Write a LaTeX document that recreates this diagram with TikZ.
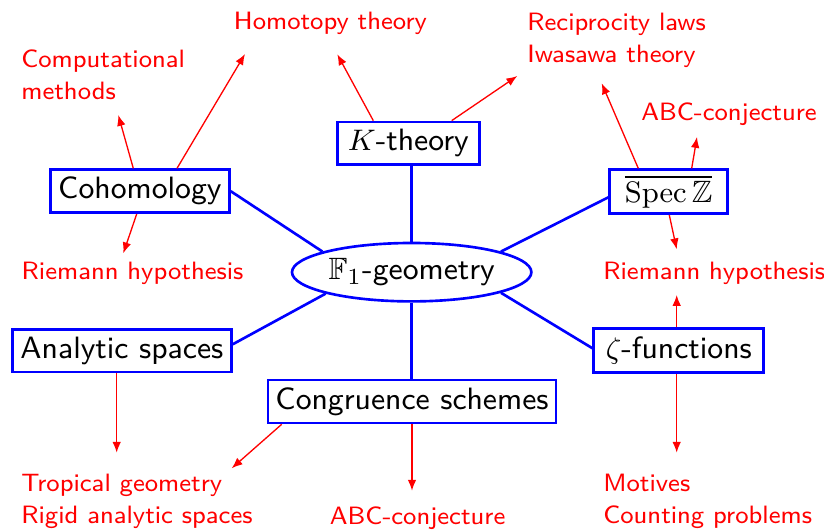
\documentclass[tikz,border=0pt]{standalone}
\usepackage{amssymb}
\usetikzlibrary{arrows.meta,calc,shapes.geometric}
\newcommand{\pxu}{0.30303pt}
\begin{document}
\begin{tikzpicture}[x=0.30303pt,y=-0.30303pt,
  box/.style={draw=blue,line width=0.8pt,inner sep=0pt,font=\sffamily\fontsize{9.35}{11.2}\selectfont,text=black},
  lnk/.style={blue,line width=0.8pt},
  lbl/.style={text=red,font=\sffamily\fontsize{7.6}{9.85}\selectfont,inner sep=0pt,align=left,anchor=base west},
  arr/.style={red,line width=0.4pt,-{Latex[length=3.3pt,width=2.6pt]}}]
\useasboundingbox (0,0) rectangle (824,530);
% main nodes
\node[box,minimum width={142*\pxu},minimum height={42.7*\pxu}] (kth) at (408.3,143.3) {$K$-theory};
\node[box,minimum width={179*\pxu},minimum height={43*\pxu}] (coh) at (139.9,191.2) {Cohomology};
\node[box,minimum width={118*\pxu},minimum height={44*\pxu}] (spec) at (668.7,191.7) {$\overline{\mathrm{Spec}\,\mathbb{Z}}$};
\node[ellipse,draw=blue,line width=0.8pt,inner sep=0pt,font=\sffamily\fontsize{9.35}{11.2}\selectfont,minimum width={239.4*\pxu},minimum height={58.4*\pxu}] (f1) at (411.7,272.2) {$\mathbb{F}_1$-geometry};
\node[box,minimum width={219*\pxu},minimum height={42.5*\pxu}] (ana) at (121.9,350.8) {Analytic spaces};
\node[box,minimum width={288*\pxu},minimum height={43*\pxu}] (cong) at (412,401.5) {Congruence schemes};
\node[box,minimum width={170*\pxu},minimum height={44*\pxu}] (zeta) at (678.8,350.7) {$\zeta$-functions};
% red labels (base west = baseline of last line)
\node[lbl] (homo) at (233.3,30) {Homotopy theory};
\node[lbl] (comp) at (20.7,100) {Computational\\methods};
\node[lbl] (recip) at (526.7,62.7) {Reciprocity laws\\Iwasawa theory};
\node[lbl] (abcR) at (640.7,120.7) {ABC-conjecture};
\node[lbl] (riemR) at (602.7,279.5) {Riemann hypothesis};
\node[lbl] (riemL) at (21,279.5) {Riemann hypothesis};
\node[lbl] (trop) at (20.7,524) {Tropical geometry\\Rigid analytic spaces};
\node[lbl] (abcB) at (329.3,525) {ABC-conjecture};
\node[lbl] (mot) at (602.7,524) {Motives\\Counting problems};
% arrow tips
\coordinate (t1) at (118.3,115);
\coordinate (t2) at (245,54);
\coordinate (t3) at (337.3,54.3);
\coordinate (t4) at (517.3,76);
\coordinate (t5) at (601.7,83.3);
\coordinate (t6) at (697,137);
\coordinate (t7) at (676.7,249.3);
\coordinate (t8) at (123.3,253.3);
\coordinate (t9) at (676.7,295);
\coordinate (t10) at (676.7,452.7);
\coordinate (t11) at (116.7,452.7);
\coordinate (t12) at (231.7,468.3);
\coordinate (t13) at (412,490.7);
% blue links
\draw[lnk] (f1.north) -- (f1.north |- kth.south);
\draw[lnk] (f1.south) -- (f1.south |- cong.north);
\draw[lnk] (coh.east) -- (f1.167);
\draw[lnk] ($(spec.west)+(0,5.6)$) -- (f1.13);
\draw[lnk] ($(ana.east)+(0,-6.5)$) -- (f1.194);
\draw[lnk] ($(zeta.west)+(0,-2.4)$) -- (f1.347);
% red arrows
\draw[arr] ($(coh.north)+(-6.6,0)$) -- (t1);
\draw[arr] ($(coh.north)+(37.1,0)$) -- (t2);
\draw[arr] ($(kth.north)+(-35,0)$) -- (t3);
\draw[arr] ($(kth.north)+(43.4,0)$) -- (t4);
\draw[arr] ($(spec.north)+(-30.4,0)$) -- (t5);
\draw[arr] ($(spec.north)+(23,0)$) -- (t6);
\draw[arr] ($(spec.south)+(0.6,0)$) -- (t7);
\draw[arr] ($(coh.south)+(-3.2,0)$) -- (t8);
\draw[arr] ($(zeta.north)+(-2.1,0)$) -- (t9);
\draw[arr] ($(zeta.south)+(-2.1,0)$) -- (t10);
\draw[arr] ($(ana.south)+(-5.2,0)$) -- (t11);
\draw[arr] ($(cong.south west)+(15,0)$) -- (t12);
\draw[arr] (cong.south) -- (t13);
\end{tikzpicture}
\end{document}
